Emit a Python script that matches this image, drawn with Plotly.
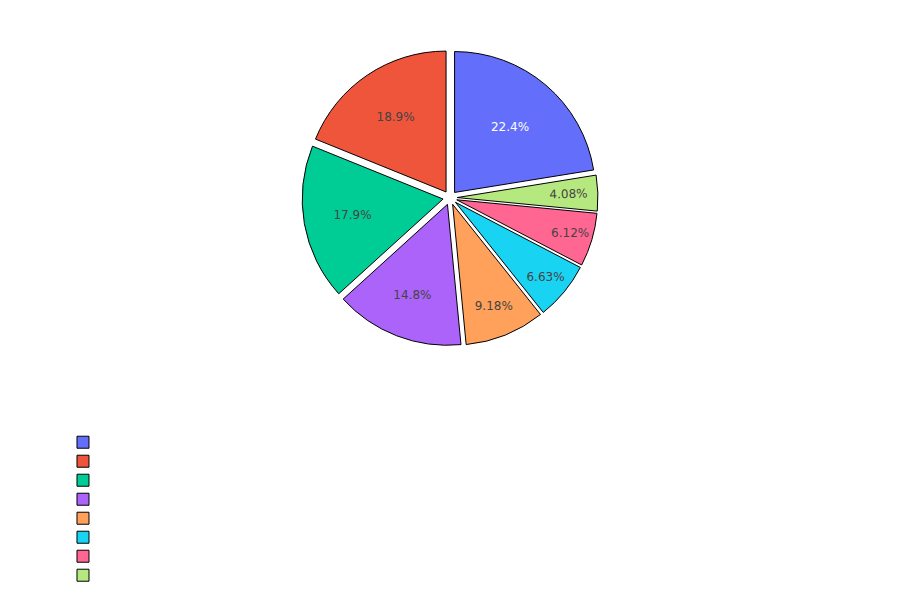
import plotly.graph_objects as go

# slice values (counts) read from the percentages shown
categories = ["A", "B", "C", "D", "E", "F", "G", "H"]
values = [44, 37, 35, 29, 18, 13, 12, 8]

fig = go.Figure(go.Pie(labels=categories,
                       values=values,
                       pull=0.05,
                       domain=dict(x=[0, 1], y=[0.4217, 0.9283]),
                       marker=dict(line=dict(color="black", width=1))))

fig.update_layout(font=dict(family="DejaVu Sans"),
                  margin=dict(l=0, r=0, t=0, b=0),
                  legend=dict(x=0.0622, xanchor="left", y=0.2813, yanchor="top",
                              font=dict(color="rgba(0,0,0,0)")))

fig.write_html("out.html")
